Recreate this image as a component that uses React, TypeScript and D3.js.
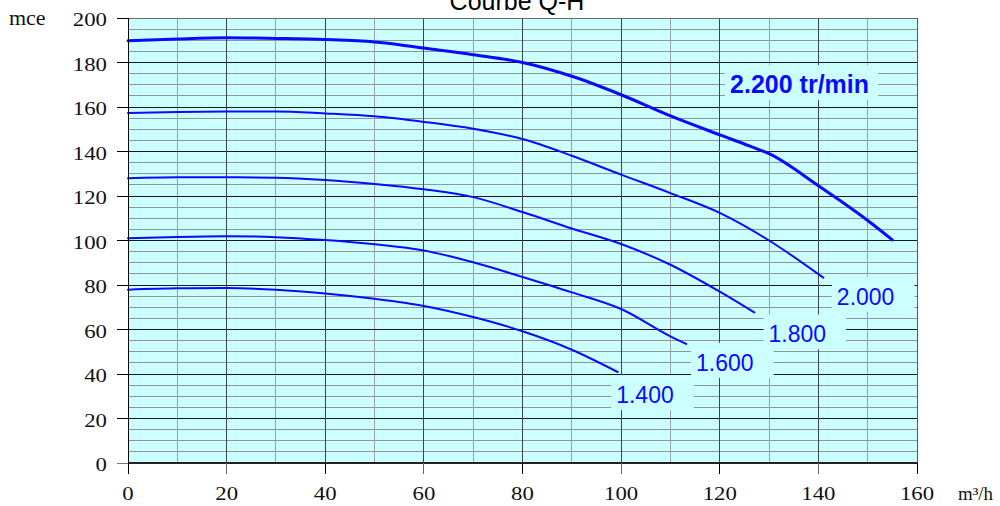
import * as d3 from 'd3';
import React, { useEffect, useRef } from 'react';

const WIDTH = 1000;
const HEIGHT = 506;
const margin = { top: 18, right: 83, bottom: 43, left: 128 };

const BG = '#ccffff';
const BLUE = '#0a0aff';
const SERIF = '"Liberation Serif", "Times New Roman", serif';
const SANS = '"Liberation Sans", Arial, sans-serif';

// Q (m3/h) / H (mce), one pair of arrays per speed
const q2200 = [0, 10, 20, 30, 40, 50, 55, 60, 70, 80, 90, 100, 110, 120, 126, 130, 140, 150, 155];
const h2200 = [189.8, 190.6, 191.1, 190.8, 190.3, 189.2, 188, 186.5, 183.5, 180, 173.8, 165.5, 156, 147.5, 142.5, 139, 124.6, 109, 100.3];

const q2000 = [0, 10, 20, 30, 40, 50, 60, 70, 80, 90, 100, 110, 120, 130, 141];
const h2000 = [157.3, 157.8, 158, 158, 157.1, 155.8, 153.3, 150.2, 145.6, 138.1, 129.6, 121.3, 112.4, 100, 83.3];

const q1800 = [0, 10, 20, 30, 40, 50, 60, 70, 80, 90, 100, 110, 120, 127];
const h1800 = [128, 128.4, 128.4, 128.2, 127.2, 125.4, 123, 119.5, 112.8, 105.4, 98.4, 89.1, 77, 67.7];

const q1600 = [0, 10, 20, 30, 40, 50, 60, 70, 80, 90, 100, 110, 113.2];
const h1600 = [101, 101.6, 101.9, 101.5, 100.2, 98.3, 95.5, 90.2, 83.6, 76.7, 69.2, 56.9, 53.5];

const q1400 = [0, 10, 20, 30, 40, 50, 60, 70, 80, 90, 99.3];
const h1400 = [77.9, 78.5, 78.6, 77.9, 76.2, 73.8, 70.6, 65.6, 59.2, 50.9, 40.9];

const series = [
  { q: q2200, h: h2200, width: 3 },
  { q: q2000, h: h2000, width: 2 },
  { q: q1800, h: h1800, width: 2 },
  { q: q1600, h: h1600, width: 2 },
  { q: q1400, h: h1400, width: 2 },
];

// speed labels, positioned in data units (left edge / baseline)
const labelText = ['2.200 tr/min', '2.000', '1.800', '1.600', '1.400'];
const labelQ = [122.1, 143.75, 129.9, 115.2, 99];
const labelH = [166.3, 71.1, 54.2, 41.4, 26.9];
const labelBold = [true, false, false, false, false];

const xTicks = [0, 20, 40, 60, 80, 100, 120, 140, 160];
const yTicks = [0, 20, 40, 60, 80, 100, 120, 140, 160, 180, 200];

export default function App() {
  const ref = useRef<SVGSVGElement>(null);

  useEffect(() => {
    const svg = d3.select(ref.current);
    svg.selectAll('*').remove();

    const w = WIDTH - margin.left - margin.right;
    const h = HEIGHT - margin.top - margin.bottom;
    const x = d3.scaleLinear().domain([0, 160]).range([margin.left, margin.left + w]);
    const y = d3.scaleLinear().domain([0, 200]).range([margin.top + h, margin.top]);

    svg.append('rect')
      .attr('x', x(0)).attr('y', y(200))
      .attr('width', x(160) - x(0)).attr('height', y(0) - y(200))
      .attr('fill', BG);

    // grid
    const grid = svg.append('g').attr('shape-rendering', 'crispEdges');
    d3.range(5, 200, 5).filter(v => v % 20 !== 0).forEach(v => {
      grid.append('line')
        .attr('x1', x(0)).attr('x2', x(160)).attr('y1', y(v)).attr('y2', y(v))
        .attr('stroke', '#8f9696').attr('stroke-width', 1);
    });
    d3.range(10, 160, 20).forEach(v => {
      grid.append('line')
        .attr('x1', x(v)).attr('x2', x(v)).attr('y1', y(0)).attr('y2', y(200))
        .attr('stroke', '#9aa3a3').attr('stroke-width', 1);
    });
    d3.range(20, 200, 20).forEach(v => {
      grid.append('line')
        .attr('x1', x(0)).attr('x2', x(160)).attr('y1', y(v)).attr('y2', y(v))
        .attr('stroke', '#1a1a1a').attr('stroke-width', 1);
    });
    d3.range(20, 160, 20).forEach(v => {
      grid.append('line')
        .attr('x1', x(v)).attr('x2', x(v)).attr('y1', y(0)).attr('y2', y(200))
        .attr('stroke', '#3a4545').attr('stroke-width', 1);
    });
    // frame
    grid.append('line').attr('x1', x(0)).attr('x2', x(160)).attr('y1', y(200)).attr('y2', y(200))
      .attr('stroke', '#6a6a6a');
    grid.append('line').attr('x1', x(160)).attr('x2', x(160)).attr('y1', y(0)).attr('y2', y(200))
      .attr('stroke', '#555');

    // curves
    const line = d3.line<[number, number]>()
      .x(d => x(d[0]))
      .y(d => y(d[1]))
      .curve(d3.curveMonotoneX);
    series.forEach(s => {
      svg.append('path')
        .datum(s.q.map((q, i) => [q, s.h[i]] as [number, number]))
        .attr('d', line)
        .attr('fill', 'none')
        .attr('stroke', BLUE)
        .attr('stroke-width', s.width)
        .attr('stroke-linecap', 'round')
        .attr('stroke-linejoin', 'round');
    });

    // labels with background boxes
    labelText.forEach((t, i) => {
      const g = svg.append('g');
      const lx = x(labelQ[i]);
      const ly = y(labelH[i]);
      const box = g.append('rect').attr('fill', BG);
      const txt = g.append('text')
        .attr('x', lx).attr('y', ly)
        .attr('fill', BLUE)
        .style('font-family', SANS)
        .style('font-size', labelBold[i] ? '25px' : '23px')
        .style('font-weight', labelBold[i] ? 'bold' : 'normal')
        .text(t);
      const tw = (txt.node() as SVGTextElement).getComputedTextLength();
      const padR = labelBold[i] ? 9 : 20;
      box.attr('x', lx - 5).attr('y', ly - 28).attr('width', tw + 5 + padR).attr('height', 35);
    });

    // axes
    const axes = svg.append('g').attr('shape-rendering', 'crispEdges');
    axes.append('line').attr('x1', x(0)).attr('x2', x(0)).attr('y1', y(200)).attr('y2', y(0) + 11)
      .attr('stroke', '#000');
    yTicks.forEach(v => {
      axes.append('line').attr('x1', x(0) - 11).attr('x2', x(0)).attr('y1', y(v)).attr('y2', y(v))
        .attr('stroke', v === 0 ? '#777' : '#000');
    });
    axes.append('line').attr('x1', x(0)).attr('x2', x(160)).attr('y1', y(0)).attr('y2', y(0))
      .attr('stroke', '#222').attr('stroke-width', 2);
    xTicks.forEach(v => {
      axes.append('line').attr('x1', x(v)).attr('x2', x(v)).attr('y1', y(0)).attr('y2', y(0) + 11)
        .attr('stroke', v % 40 === 0 ? '#000' : '#666');
    });

    const labels = svg.append('g').style('font-family', SERIF).style('font-size', '19px').attr('fill', '#111');
    yTicks.forEach(v => {
      labels.append('text')
        .attr('transform', `translate(${x(0) - 21},${y(v) + 8}) scale(1.2,1)`)
        .attr('text-anchor', 'end')
        .text(v);
    });
    xTicks.forEach(v => {
      labels.append('text')
        .attr('transform', `translate(${x(v)},${y(0) + 37}) scale(1.2,1)`)
        .attr('text-anchor', 'middle')
        .text(v);
    });
    labels.append('text')
      .attr('transform', `translate(9,25) scale(1.1,1)`)
      .style('font-size', '20px')
      .text('mce');
    labels.append('text')
      .attr('transform', `translate(958,500) scale(1.05,1)`)
      .style('font-size', '18px')
      .text('m³/h');

    svg.append('text')
      .attr('x', 517).attr('y', 10)
      .attr('text-anchor', 'middle')
      .style('font-family', SANS)
      .style('font-size', '25px')
      .attr('fill', '#000')
      .text('Courbe Q-H');
  }, []);

  return (
    <svg
      ref={ref}
      width={WIDTH}
      height={HEIGHT}
      viewBox={`0 0 ${WIDTH} ${HEIGHT}`}
      style={{ position: 'absolute', left: 0, top: 0, background: '#fff' }}
    />
  );
}
